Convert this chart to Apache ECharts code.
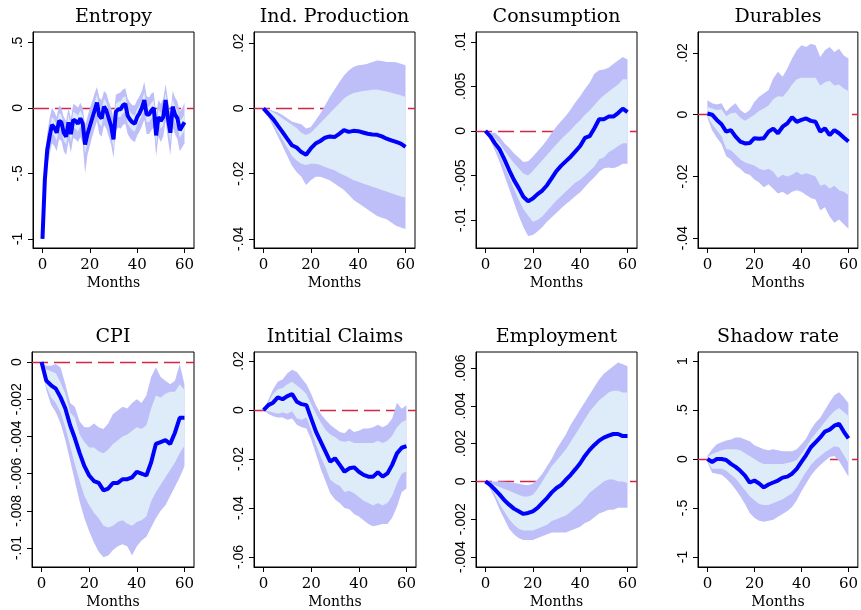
<!DOCTYPE html>
<html><head><meta charset="utf-8">
<script src="https://cdn.jsdelivr.net/npm/echarts@6/dist/echarts.min.js"></script>
<style>html,body{margin:0;padding:0;background:#fff}#c{width:861px;height:610px}</style>
</head><body><div id="c"></div>
<script>
// ---------- x values ----------
const monthsFull = [0,1,2,3,4,5,6,7,8,9,10,11,12,13,14,15,16,17,18,19,20,21,22,23,24,25,26,27,28,29,30,
  31,32,33,34,35,36,37,38,39,40,41,42,43,44,45,46,47,48,49,50,51,52,53,54,55,56,57,58,59,60];
const months2 = [0,2,4,6,8,10,12,14,16,18,20,22,24,26,28,30,32,34,36,38,40,42,44,46,48,50,52,54,56,58,60];
const xTicks = [0,20,40,60];

// ---------- Entropy ----------
const entropyMean = [-1.0,-0.55,-0.32,-0.22,-0.13,-0.15,-0.19,-0.1,-0.11,-0.19,
  -0.22,-0.11,-0.2,-0.09,-0.1,-0.12,-0.08,-0.12,-0.28,-0.2,
  -0.14,-0.08,-0.02,0.04,-0.06,-0.08,0.01,-0.02,-0.08,-0.14,
  -0.24,-0.03,-0.01,-0.01,0.02,0.03,-0.06,-0.09,-0.11,-0.12,
  -0.07,-0.04,0.0,0.06,-0.05,-0.05,-0.02,0.0,-0.21,-0.07,
  -0.1,-0.07,0.06,-0.08,-0.19,0.01,-0.05,-0.08,-0.17,-0.14,-0.11];
const entropyOuterHi = [-1.0,-0.45,-0.2,-0.08,0.0,-0.03,-0.07,0.02,0.0,-0.07,
  -0.1,0.0,-0.08,0.03,0.02,0.0,0.04,0.0,-0.13,-0.07,
  0.0,0.05,0.11,0.16,0.08,0.06,0.13,0.11,0.05,0.0,
  -0.08,0.1,0.11,0.12,0.14,0.15,0.07,0.04,0.02,0.02,
  0.06,0.09,0.13,0.2,0.09,0.08,0.11,0.12,-0.05,0.06,
  0.03,0.07,0.18,0.06,-0.05,0.13,0.08,0.05,-0.03,0.0,0.04];
const entropyOuterLo = [-1.0,-0.65,-0.45,-0.36,-0.27,-0.29,-0.33,-0.24,-0.25,-0.33,
  -0.36,-0.25,-0.34,-0.23,-0.24,-0.26,-0.22,-0.27,-0.5,-0.36,
  -0.29,-0.22,-0.16,-0.1,-0.2,-0.22,-0.13,-0.16,-0.22,-0.28,
  -0.38,-0.17,-0.15,-0.16,-0.13,-0.12,-0.2,-0.23,-0.25,-0.26,
  -0.21,-0.18,-0.14,-0.09,-0.2,-0.2,-0.17,-0.15,-0.37,-0.22,
  -0.26,-0.22,-0.1,-0.24,-0.36,-0.15,-0.2,-0.24,-0.33,-0.3,-0.27];
const entropyInnerHi = [-1.0,-0.5,-0.26,-0.16,-0.07,-0.09,-0.13,-0.04,-0.05,-0.13,
  -0.16,-0.05,-0.14,-0.03,-0.04,-0.06,-0.02,-0.06,-0.21,-0.14,
  -0.08,-0.02,0.04,0.1,0.01,-0.02,0.07,0.04,-0.02,-0.08,
  -0.17,0.03,0.05,0.05,0.08,0.09,0.0,-0.03,-0.05,-0.06,
  -0.01,0.02,0.06,0.12,0.01,0.01,0.04,0.06,-0.14,-0.01,
  -0.04,-0.01,0.12,-0.02,-0.12,0.07,0.01,-0.02,-0.1,-0.08,-0.05];
const entropyInnerLo = [-1.0,-0.6,-0.38,-0.28,-0.19,-0.21,-0.25,-0.16,-0.17,-0.25,
  -0.28,-0.17,-0.26,-0.15,-0.16,-0.18,-0.14,-0.18,-0.35,-0.26,
  -0.2,-0.14,-0.08,-0.02,-0.12,-0.14,-0.05,-0.08,-0.14,-0.2,
  -0.31,-0.09,-0.07,-0.07,-0.04,-0.03,-0.12,-0.15,-0.17,-0.18,
  -0.13,-0.1,-0.06,0.0,-0.11,-0.11,-0.08,-0.06,-0.28,-0.13,
  -0.16,-0.13,0.0,-0.14,-0.26,-0.05,-0.11,-0.14,-0.23,-0.2,-0.17];
const entropyTicks = [-1,-0.5,0,0.5];

// ---------- Ind. Production ----------
const ipMean = [0,-0.0016,-0.0032,-0.0052,-0.0072,-0.0093,-0.0113,-0.012,-0.0134,-0.0142,-0.0123,-0.0108,-0.01,-0.009,-0.0086,-0.0088,-0.0078,-0.0067,-0.0072,-0.0069,-0.007,-0.0074,-0.0078,-0.008,-0.0081,-0.0086,-0.0093,-0.0098,-0.0103,-0.0108,-0.0118];
const ipOuterHi = [0,-0.0002,-0.0008,-0.0012,-0.002,-0.003,-0.004,-0.0045,-0.0049,-0.0062,-0.0057,-0.0037,-0.0016,0.0009,0.0035,0.0057,0.008,0.0101,0.0116,0.0127,0.0132,0.0134,0.0137,0.0142,0.0147,0.0145,0.0142,0.0142,0.0141,0.0137,0.0132];
const ipInnerHi = [0,-0.0005,-0.0012,-0.002,-0.003,-0.004,-0.005,-0.006,-0.0075,-0.0082,-0.0075,-0.006,-0.0045,-0.003,-0.0015,0,0.0015,0.003,0.004,0.0047,0.005,0.0053,0.0055,0.0057,0.0058,0.0055,0.0052,0.0048,0.0044,0.004,0.0035];
const ipInnerLo = [0,-0.002,-0.0045,-0.007,-0.0095,-0.012,-0.0145,-0.016,-0.017,-0.0174,-0.017,-0.017,-0.0174,-0.018,-0.0185,-0.019,-0.0198,-0.0205,-0.0212,-0.022,-0.0225,-0.023,-0.0235,-0.024,-0.0245,-0.025,-0.0255,-0.026,-0.0265,-0.027,-0.0273];
const ipOuterLo = [0,-0.0025,-0.0055,-0.0085,-0.0115,-0.0145,-0.0175,-0.0195,-0.021,-0.0235,-0.022,-0.021,-0.021,-0.0215,-0.022,-0.023,-0.024,-0.025,-0.0265,-0.028,-0.029,-0.030,-0.031,-0.032,-0.033,-0.0335,-0.034,-0.035,-0.036,-0.0365,-0.037];
const ipTicks = [-0.04,-0.02,0,0.02];

// ---------- Consumption ----------
const consMean = [0,-0.0006,-0.0014,-0.0021,-0.0032,-0.0044,-0.0055,-0.0064,-0.0074,-0.0079,-0.0076,-0.0071,-0.0067,-0.0061,-0.0053,-0.0045,-0.0039,-0.0034,-0.0029,-0.0023,-0.0017,-0.0008,-0.0006,0.0003,0.0013,0.0013,0.0016,0.0016,0.002,0.0025,0.0021];
const consOuterHi = [0,-0.0002,-0.0002,-0.0007,-0.0014,-0.0019,-0.0025,-0.003,-0.0035,-0.0034,-0.0029,-0.0023,-0.0017,-0.001,-0.0002,0.0005,0.0011,0.0017,0.0024,0.0032,0.0039,0.0047,0.0054,0.0064,0.0068,0.0069,0.0071,0.0075,0.0079,0.0083,0.008];
const consInnerHi = [0,-0.0004,-0.0008,-0.0014,-0.0022,-0.0029,-0.0036,-0.0042,-0.0048,-0.005,-0.0045,-0.0039,-0.0033,-0.0027,-0.0021,-0.0015,-0.0009,-0.0004,0.0001,0.0007,0.0012,0.0018,0.0023,0.0029,0.0035,0.004,0.0044,0.0048,0.0052,0.0058,0.0058];
const consInnerLo = [0,-0.0008,-0.0018,-0.0028,-0.004,-0.0052,-0.0065,-0.0077,-0.0088,-0.0095,-0.0102,-0.01,-0.0096,-0.009,-0.0084,-0.0078,-0.0073,-0.0068,-0.0063,-0.0058,-0.0055,-0.005,-0.0045,-0.004,-0.0032,-0.003,-0.0024,-0.0021,-0.0017,-0.0014,-0.0014];
const consOuterLo = [0,-0.001,-0.0022,-0.0035,-0.005,-0.0065,-0.008,-0.0095,-0.0108,-0.0118,-0.0117,-0.0113,-0.0108,-0.0102,-0.0097,-0.0092,-0.0087,-0.0082,-0.0078,-0.0073,-0.0069,-0.0063,-0.0057,-0.0052,-0.0046,-0.0042,-0.0041,-0.0042,-0.004,-0.0037,-0.0037];
const consTicks = [-0.01,-0.005,0,0.005,0.01];

// ---------- Durables ----------
const durMean = [0.0004,0,-0.0017,-0.0031,-0.0055,-0.005,-0.0071,-0.0087,-0.0093,-0.0092,-0.0076,-0.0078,-0.0076,-0.0055,-0.0045,-0.006,-0.0039,-0.0028,-0.0008,-0.0023,-0.0017,-0.0012,-0.002,-0.0023,-0.0055,-0.0044,-0.0066,-0.005,-0.006,-0.0074,-0.0087];
const durOuterHi = [0.0047,0.0037,0.0033,0.0037,0.001,0.0026,0.0037,0.0015,0.0004,0.0015,0.0042,0.0058,0.0069,0.008,0.0117,0.0139,0.0123,0.015,0.0182,0.0209,0.0225,0.0219,0.023,0.0225,0.0187,0.0209,0.0219,0.0203,0.0214,0.0192,0.0182];
const durInnerHi = [0.0025,0.002,0.0015,0.0018,-0.0005,0.0005,0.0007,-0.001,-0.002,-0.001,0,0.0012,0.002,0.003,0.005,0.006,0.0058,0.0075,0.0098,0.0115,0.012,0.012,0.012,0.012,0.0095,0.0105,0.011,0.0095,0.0098,0.0085,0.0077];
const durInnerLo = [-0.0005,-0.003,-0.005,-0.007,-0.011,-0.0115,-0.013,-0.0145,-0.0155,-0.016,-0.0165,-0.0175,-0.018,-0.0175,-0.0185,-0.0205,-0.0195,-0.02,-0.0195,-0.0185,-0.0195,-0.019,-0.0195,-0.02,-0.023,-0.0225,-0.024,-0.023,-0.0245,-0.025,-0.026];
const durOuterLo = [-0.001,-0.005,-0.0075,-0.0095,-0.0135,-0.0145,-0.0165,-0.0175,-0.019,-0.0195,-0.021,-0.022,-0.0235,-0.0225,-0.024,-0.0255,-0.025,-0.026,-0.025,-0.0245,-0.025,-0.026,-0.027,-0.0275,-0.031,-0.03,-0.033,-0.035,-0.034,-0.0355,-0.037];
const durTicks = [-0.04,-0.02,0,0.02];

// ---------- CPI ----------
const cpiMean = [0,-0.001,-0.00125,-0.00143,-0.0019,-0.0025,-0.0034,-0.0041,-0.0049,-0.0056,-0.0061,-0.0064,-0.0065,-0.0069,-0.0068,-0.0065,-0.0065,-0.0063,-0.0063,-0.0062,-0.0059,-0.006,-0.0061,-0.0054,-0.0044,-0.0043,-0.0042,-0.0044,-0.0038,-0.003,-0.003];
const cpiOuterHi = [0,-0.0002,-0.0002,-0.0001,-0.0003,-0.0012,-0.0022,-0.0024,-0.0032,-0.0035,-0.0035,-0.0033,-0.0035,-0.0036,-0.0033,-0.0028,-0.0026,-0.0024,-0.0025,-0.0022,-0.002,-0.0022,-0.0018,-0.0008,-0.0003,-0.0008,-0.001,-0.0012,-0.001,-0.0001,-0.0012];
const cpiInnerHi = [0,-0.0004,-0.0005,-0.0006,-0.0011,-0.0017,-0.0027,-0.003,-0.0039,-0.0043,-0.0046,-0.0046,-0.0048,-0.0049,-0.0047,-0.0044,-0.0042,-0.004,-0.0039,-0.0037,-0.0035,-0.0036,-0.0034,-0.0025,-0.0018,-0.0019,-0.0017,-0.0016,-0.0016,-0.0012,-0.0015];
const cpiInnerLo = [0,-0.0013,-0.0019,-0.0022,-0.0027,-0.0035,-0.0045,-0.0055,-0.0064,-0.0072,-0.0077,-0.0081,-0.0084,-0.0088,-0.0089,-0.0088,-0.0086,-0.0085,-0.0087,-0.0088,-0.0086,-0.0085,-0.0083,-0.0075,-0.007,-0.0066,-0.0062,-0.0058,-0.0054,-0.0049,-0.0045];
const cpiOuterLo = [0,-0.0015,-0.0023,-0.0027,-0.0033,-0.0042,-0.0053,-0.0064,-0.0075,-0.0084,-0.0091,-0.0097,-0.0102,-0.0105,-0.0104,-0.0101,-0.0099,-0.0098,-0.0099,-0.0104,-0.0099,-0.0096,-0.0094,-0.0089,-0.0084,-0.008,-0.0077,-0.0072,-0.0067,-0.0062,-0.0056];
const cpiTicks = [-0.01,-0.008,-0.006,-0.004,-0.002,0];

// ---------- Initial Claims ----------
const claimsMean = [0,0.002,0.003,0.0052,0.0044,0.0057,0.0065,0.0034,0.0024,0.002,-0.0034,-0.0088,-0.0129,-0.017,-0.0211,-0.0197,-0.0224,-0.0252,-0.0238,-0.0234,-0.0252,-0.0265,-0.0272,-0.0272,-0.0254,-0.0272,-0.0259,-0.0224,-0.0177,-0.0154,-0.0147];
const claimsOuterHi = [0,0.004,0.0085,0.0115,0.0125,0.015,0.0165,0.0155,0.013,0.0105,0.0065,0.002,-0.0015,-0.004,-0.006,-0.0075,-0.009,-0.0095,-0.0075,-0.009,-0.0085,-0.0075,-0.0075,-0.007,-0.006,-0.007,-0.006,-0.0035,0.003,0.0005,0.002];
const claimsInnerHi = [0,0.003,0.0065,0.0085,0.009,0.0105,0.0115,0.01,0.0085,0.0065,0.0025,-0.0015,-0.005,-0.008,-0.01,-0.011,-0.0125,-0.013,-0.0125,-0.0135,-0.0135,-0.0135,-0.0135,-0.0135,-0.0125,-0.0135,-0.0125,-0.0105,-0.007,-0.005,-0.004];
const claimsInnerLo = [0,-0.0005,-0.001,-0.0015,-0.001,-0.0015,-0.0005,-0.0035,-0.004,-0.003,-0.008,-0.014,-0.019,-0.0235,-0.0285,-0.03,-0.031,-0.0335,-0.033,-0.034,-0.0355,-0.037,-0.038,-0.039,-0.038,-0.039,-0.038,-0.035,-0.03,-0.026,-0.025];
const claimsOuterLo = [0,-0.0015,-0.0025,-0.003,-0.003,-0.004,-0.0035,-0.006,-0.007,-0.0075,-0.012,-0.018,-0.024,-0.029,-0.034,-0.0365,-0.038,-0.04,-0.0405,-0.0425,-0.0435,-0.045,-0.0465,-0.0475,-0.047,-0.0465,-0.0465,-0.044,-0.0395,-0.0335,-0.032];
const claimsTicks = [-0.06,-0.04,-0.02,0,0.02];

// ---------- Employment ----------
const empMean = [0,-0.00018,-0.00044,-0.0007,-0.001,-0.00123,-0.00144,-0.00158,-0.00172,-0.00167,-0.00158,-0.0014,-0.00114,-0.00088,-0.00058,-0.00035,-0.00018,0.00009,0.00035,0.00065,0.00096,0.00135,0.00167,0.00193,0.00216,0.00232,0.00242,0.00251,0.00251,0.0024,0.0024];
const empOuterHi = [0,0,0,0,-0.00002,-0.00005,-0.00008,-0.00012,-0.00018,-0.0002,-0.00012,0.0001,0.0004,0.0008,0.0012,0.0017,0.0021,0.0025,0.003,0.0034,0.0038,0.0042,0.0046,0.005,0.0054,0.0057,0.0059,0.0061,0.0063,0.0062,0.0061];
const empInnerHi = [0,-0.0001,-0.0002,-0.0003,-0.0004,-0.0005,-0.0006,-0.0007,-0.0008,-0.0008,-0.0007,-0.0004,0,0.0004,0.0008,0.0011,0.0014,0.0017,0.0021,0.0025,0.0029,0.0033,0.0037,0.004,0.0043,0.0045,0.0047,0.0048,0.0048,0.0047,0.0047];
const empInnerLo = [0,-0.0003,-0.0007,-0.0012,-0.0016,-0.002,-0.0023,-0.0025,-0.0026,-0.0026,-0.0026,-0.0025,-0.0024,-0.0023,-0.0021,-0.002,-0.0019,-0.0018,-0.0016,-0.0014,-0.0012,-0.0009,-0.0006,-0.0004,-0.0002,0,0.0001,0.0001,0,0,-0.0001];
const empOuterLo = [0,-0.0004,-0.0009,-0.0015,-0.002,-0.0025,-0.0028,-0.003,-0.0031,-0.0031,-0.0031,-0.003,-0.0029,-0.0028,-0.0027,-0.0027,-0.0027,-0.0027,-0.0026,-0.0025,-0.0024,-0.0022,-0.0021,-0.0019,-0.0017,-0.0016,-0.0015,-0.0015,-0.0014,-0.0014,-0.0014];
const empTicks = [-0.004,-0.002,0,0.002,0.004,0.006];

// ---------- Shadow rate ----------
const shadowMean = [0,-0.03,0,0,-0.01,-0.05,-0.08,-0.12,-0.17,-0.24,-0.22,-0.25,-0.29,-0.26,-0.24,-0.22,-0.19,-0.18,-0.15,-0.1,-0.03,0.04,0.12,0.17,0.22,0.28,0.3,0.34,0.36,0.28,0.21];
const shadowOuterHi = [0.03,0.1,0.15,0.17,0.19,0.2,0.22,0.22,0.2,0.18,0.14,0.12,0.1,0.09,0.1,0.09,0.08,0.08,0.08,0.1,0.15,0.21,0.3,0.37,0.42,0.5,0.58,0.65,0.68,0.63,0.57];
const shadowInnerHi = [0.02,0.05,0.07,0.09,0.1,0.1,0.1,0.09,0.06,0.03,0,-0.03,-0.05,-0.05,-0.05,-0.05,-0.05,-0.04,-0.03,-0.01,0.05,0.12,0.2,0.26,0.32,0.38,0.44,0.49,0.52,0.48,0.44];
const shadowInnerLo = [-0.02,-0.1,-0.1,-0.1,-0.12,-0.16,-0.2,-0.26,-0.32,-0.38,-0.42,-0.46,-0.47,-0.47,-0.45,-0.43,-0.41,-0.38,-0.35,-0.29,-0.21,-0.13,-0.06,-0.01,0.03,0.07,0.1,0.13,0.12,0.04,-0.04];
const shadowOuterLo = [-0.03,-0.14,-0.15,-0.16,-0.2,-0.25,-0.31,-0.38,-0.46,-0.55,-0.6,-0.63,-0.64,-0.63,-0.62,-0.59,-0.56,-0.53,-0.49,-0.42,-0.33,-0.25,-0.17,-0.11,-0.06,-0.02,0.02,0.03,-0.02,-0.1,-0.18];
const shadowTicks = [-1,-0.5,0,0.5,1];

const titles = ['Entropy','Ind. Production','Consumption','Durables','CPI','Intitial Claims','Employment','Shadow rate'];

// ---------- panels (data refs + layout) ----------
const panels = [
  {title:titles[0], x:monthsFull, mean:entropyMean, oHi:entropyOuterHi, oLo:entropyOuterLo, iHi:entropyInnerHi, iLo:entropyInnerLo, ticks:entropyTicks, min:-1.07, max:0.58, box:[33,32,161,216]},
  {title:titles[1], x:months2, mean:ipMean, oHi:ipOuterHi, oLo:ipOuterLo, iHi:ipInnerHi, iLo:ipInnerLo, ticks:ipTicks, min:-0.0428, max:0.0234, box:[254,32,161,216]},
  {title:titles[2], x:months2, mean:consMean, oHi:consOuterHi, oLo:consOuterLo, iHi:consInnerHi, iLo:consInnerLo, ticks:consTicks, min:-0.01315, max:0.0111, box:[476,32,161,216]},
  {title:titles[3], x:months2, mean:durMean, oHi:durOuterHi, oLo:durOuterLo, iHi:durInnerHi, iLo:durInnerLo, ticks:durTicks, min:-0.0432, max:0.0268, box:[698,32,160,216]},
  {title:titles[4], x:months2, mean:cpiMean, oHi:cpiOuterHi, oLo:cpiOuterLo, iHi:cpiInnerHi, iLo:cpiInnerLo, ticks:cpiTicks, min:-0.01102, max:0.00054, box:[32,352,162,215]},
  {title:titles[5], x:months2, mean:claimsMean, oHi:claimsOuterHi, oLo:claimsOuterLo, iHi:claimsInnerHi, iLo:claimsInnerLo, ticks:claimsTicks, min:-0.0641, max:0.0237, box:[254,352,162,215]},
  {title:titles[6], x:months2, mean:empMean, oHi:empOuterHi, oLo:empOuterLo, iHi:empInnerHi, iLo:empInnerLo, ticks:empTicks, min:-0.00453, max:0.00685, box:[476,352,161,215]},
  {title:titles[7], x:months2, mean:shadowMean, oHi:shadowOuterHi, oLo:shadowOuterLo, iHi:shadowInnerHi, iLo:shadowInnerLo, ticks:shadowTicks, min:-1.102, max:1.092, box:[698,352,160,215]}
];

function fmt(v){
  const s = String(+Number(v).toPrecision(6));
  return s.replace(/^(-?)0\./, '$1.');
}

function band(k, xs, lo, hi, color, z){
  return {
    type:'custom', xAxisIndex:k, yAxisIndex:k, z:z, silent:true, clip:true,
    data: xs.map((x,i)=>[x, lo[i], hi[i]]),
    encode:{x:0, y:[1,2]},
    renderItem: function(params, api){
      if (params.dataIndex !== 0) return null;
      const pts = [];
      for (let i=0;i<xs.length;i++) pts.push(api.coord([xs[i], hi[i]]));
      for (let i=xs.length-1;i>=0;i--) pts.push(api.coord([xs[i], lo[i]]));
      return {type:'polygon', shape:{points:pts}, style:{fill:color, stroke:null}};
    }
  };
}

const grid=[], xAxis=[], yAxis=[], series=[], title=[];
panels.forEach((p,k)=>{
  const [l,t,w,h] = p.box;
  grid.push({left:l, top:t, width:w, height:h, show:true, borderColor:'#000', borderWidth:1, backgroundColor:'rgba(0,0,0,0)'});
  title.push({text:p.title, left:l+w/2, top:t-24, textAlign:'center', padding:0,
    textStyle:{fontFamily:'DejaVu Serif', fontSize:19, fontWeight:'normal', color:'#000'}});
  xAxis.push({gridIndex:k, type:'value', min:-4, max:64,
    name:'Months', nameLocation:'middle', nameGap:28,
    nameTextStyle:{fontFamily:'DejaVu Serif', fontSize:14, color:'#000'},
    axisLine:{show:true, onZero:false, lineStyle:{color:'#000', width:1}},
    axisTick:{show:true, length:5, customValues:xTicks, lineStyle:{color:'#000'}},
    axisLabel:{customValues:xTicks, margin:10, fontFamily:'DejaVu Serif', fontSize:15, color:'#000'},
    splitLine:{show:false}});
  yAxis.push({gridIndex:k, type:'value', min:p.min, max:p.max,
    axisLine:{show:true, onZero:false, lineStyle:{color:'#000', width:1}},
    axisTick:{show:true, length:5, customValues:p.ticks, lineStyle:{color:'#000'}},
    axisLabel:{customValues:p.ticks, rotate:90, margin:8, formatter:fmt, fontFamily:'Liberation Sans', fontSize:14, color:'#000'},
    splitLine:{show:false}});
  series.push({type:'line', xAxisIndex:k, yAxisIndex:k, data:[], z:1, silent:true,
    markLine:{silent:true, z:1, symbol:'none', animation:false, label:{show:false},
      lineStyle:{color:'#d3244a', width:1.3, type:[16,6]}, data:[{yAxis:0}]}});
  series.push(band(k, p.x, p.oLo, p.oHi, '#bebef9', 2));
  series.push(band(k, p.x, p.iLo, p.iHi, '#ddecf8', 3));
  series.push({type:'line', xAxisIndex:k, yAxisIndex:k, z:5, silent:true,
    data:p.x.map((x,i)=>[x, p.mean[i]]), showSymbol:false, symbol:'none',
    lineStyle:{color:'#0000ff', width:4}});
});

const chart = echarts.init(document.getElementById('c'), null, {renderer:'canvas'});
chart.setOption({animation:false, backgroundColor:'#fff', title, grid, xAxis, yAxis, series});
</script>
</body></html>
